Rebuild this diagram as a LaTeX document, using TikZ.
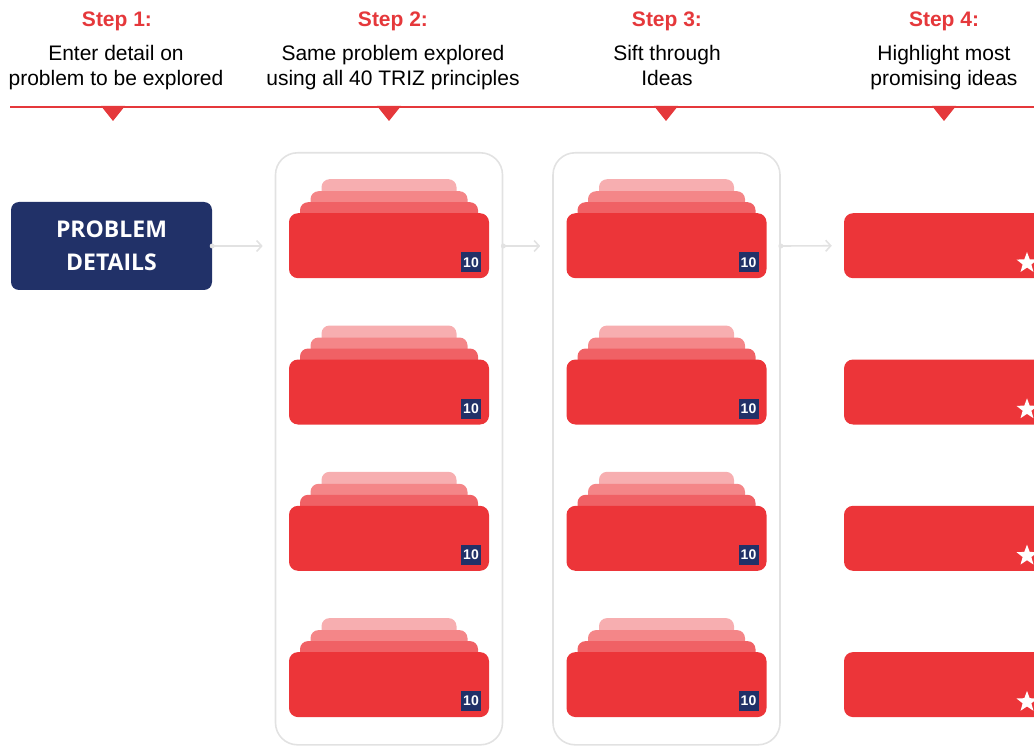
\documentclass[tikz,border=0pt]{standalone}
\usepackage{fontspec}
\setmainfont{Liberation Sans}
\newfontfamily\boxfont{Open Sans}
\usetikzlibrary{arrows.meta,shapes.geometric,positioning}
\definecolor{stepred}{RGB}{229,56,59}
\definecolor{cardred}{RGB}{236,53,57}
\definecolor{navy}{RGB}{33,49,104}
\definecolor{frame}{RGB}{226,226,226}

\begin{document}
\begin{tikzpicture}[x=1pt,y=-1pt,
  title/.style={text=stepred, font=\bfseries\fontsize{21}{25}\selectfont},
  desc/.style={align=center, font=\fontsize{21}{25}\selectfont},
  column/.style={draw=frame, line width=1.6pt, rounded corners=22pt, minimum width=227pt, minimum height=592pt, anchor=north},
  card/.style={fill=cardred, rounded corners=9pt, minimum width=200pt, minimum height=65pt, inner sep=0pt, anchor=north},
  layer/.style={rounded corners=8pt, minimum height=30pt, inner sep=0pt, anchor=north},
  badge/.style={fill=navy, text=white, font=\bfseries\fontsize{14}{14}\selectfont, minimum size=20pt, inner sep=0pt, anchor=south east},
  flow/.style={draw=frame, line width=1.6pt, -{Straight Barb[length=5pt,width=11pt]}, shorten >=12pt}]

  \useasboundingbox (0,0) rectangle (1034,746);

  \node[title] (s1) at (117,21) {Step 1:};
  \node[title] (s2) at (393,21) {Step 2:};
  \node[title] (s3) at (667,21) {Step 3:};
  \node[title] (s4) at (944,21) {Step 4:};
  \node[desc] (d1) at (116,69) {Enter detail on\\problem to be explored\strut};
  \node[desc] (d2) at (393,69) {Same problem explored\\using all 40 TRIZ principles\strut};
  \node[desc] (d3) at (667,69) {Sift through\\Ideas\strut};
  \node[desc] (d4) at (944,69) {Highlight most\\promising ideas\strut};

  \draw[stepred, line width=2pt] (10,107) -- (1034,107);
  \foreach \x in {113,389,666,944}
    \fill[stepred] (\x-12,106) -- (\x+12,106) -- (\x,121) -- cycle;

  \node[fill=navy, rounded corners=8pt, minimum width=201pt, minimum height=88pt, text=white,
        align=center, font=\boxfont\bfseries\fontsize{23}{33}\selectfont] (pd) at (111.5,246) {PROBLEM\\DETAILS};

  \foreach \c/\cx in {2/389,3/666.5} {
    \node[column] (col\c) at (\cx,152) {};
    \foreach \r in {1,...,4} {
      \pgfmathsetmacro\ty{213+146.3*(\r-1)}
      \node[layer, fill=cardred!40!white, minimum width=135pt] at (\cx,\ty-34) {};
      \node[layer, fill=cardred!60!white, minimum width=157pt] at (\cx,\ty-22) {};
      \node[layer, fill=cardred!78!white, minimum width=178pt] at (\cx,\ty-11) {};
      \node[card] (b\c\r) at (\cx,\ty) {};
      \node[badge] (n\c\r) at ([xshift=-8pt,yshift=6pt]b\c\r.south east) {10};
    }
  }

  \foreach \r in {1,...,4} {
    \pgfmathsetmacro\ty{213+146.3*(\r-1)}
    \node[card] (b4\r) at (944,\ty) {};
    \node[star, star points=5, star point ratio=2.4, fill=white, minimum size=22pt, inner sep=0pt] (st\r) at (1027,\ty+50) {};
  }

  \draw[flow] (pd.east) -- (pd.east -| col2.west);
  \draw[flow] (col2.east |- pd.east) -- (pd.east -| col3.west);
  \draw[flow] (col3.east |- pd.east) -- (b41.west);
  \fill[frame] (pd.east) circle (2.5pt) (col2.east |- pd.east) circle (2.5pt) (col3.east |- pd.east) circle (2.5pt);
\end{tikzpicture}
\end{document}
